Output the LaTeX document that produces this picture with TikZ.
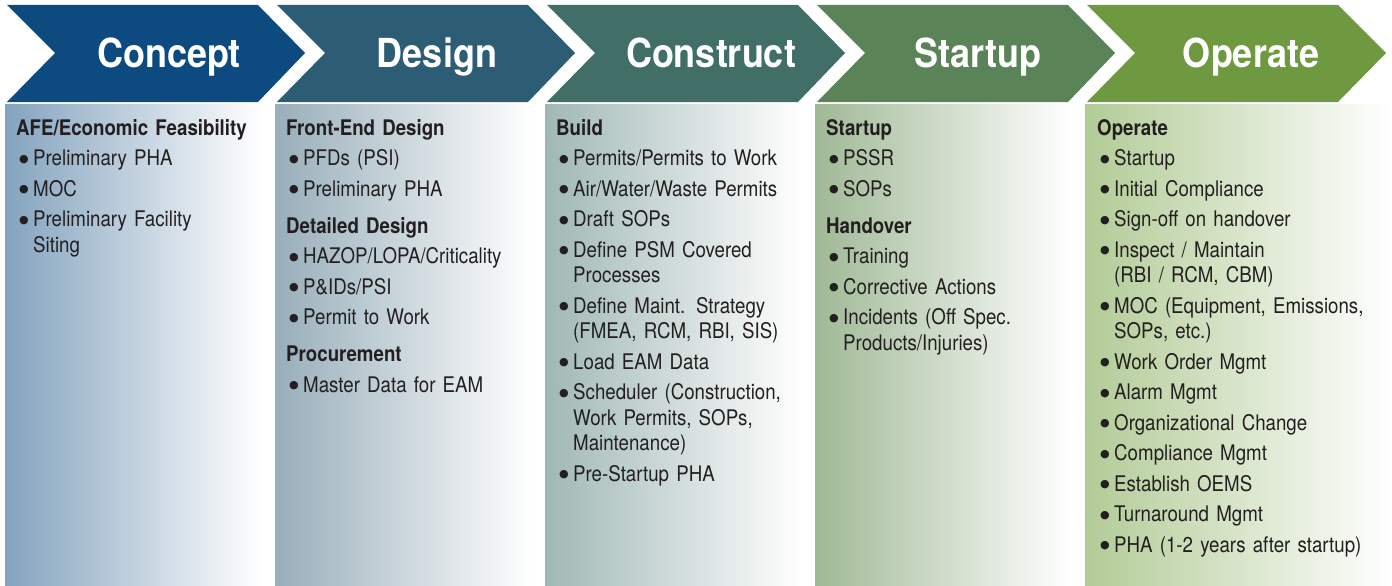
\documentclass[tikz,border=0pt]{standalone}
\usepackage{fontspec}
\setmainfont{TeX Gyre Heros}[FakeStretch=0.87]
\newfontfamily\titlefont{TeX Gyre Heros}[FakeStretch=0.9]
\newfontfamily\symfont{DejaVu Sans}
\usetikzlibrary{positioning}
\definecolor{conceptcol}{HTML}{0C4A7F}
\definecolor{designcol}{HTML}{2C5D75}
\definecolor{constructcol}{HTML}{426E68}
\definecolor{startupcol}{HTML}{5A8357}
\definecolor{operatecol}{HTML}{6F9940}
\definecolor{conceptpanel}{HTML}{84A3BE}
\definecolor{designpanel}{HTML}{98AEBA}
\definecolor{constructpanel}{HTML}{A0B8B4}
\definecolor{startuppanel}{HTML}{A0B996}
\definecolor{operatepanel}{HTML}{B2CB96}
\definecolor{textgray}{HTML}{231F20}
\newcommand{\blt}{\makebox[17pt][l]{\hspace{3pt}\raisebox{3.3pt}{\symfont\fontsize{11}{10}\selectfont ●}}}
\newcommand{\itm}[1]{\par\hangindent=17pt\hangafter=1\noindent\blt#1\par}
\newcommand{\hdr}[1]{\par\vspace{6.5pt}\noindent\textbf{#1}\par}
\newcommand{\firsthdr}[1]{\noindent\textbf{#1}\par}

\begin{document}
\begin{tikzpicture}[x=1pt,y=-1pt,
  phasetitle/.style={text=white,inner sep=0pt,anchor=base,font=\titlefont\fontsize{40}{40}\selectfont\bfseries},
  column/.style={anchor=north west,inner sep=0pt,text width=300pt,text=textgray,
    font=\fontsize{21.5}{25.5}\selectfont\setlength{\parskip}{5pt}\setlength{\parindent}{0pt}\raggedright}]
\useasboundingbox (0,0) rectangle (1392,586);
\fill[white] (0,0) rectangle (1392,586);
% panels
\shade[left color=conceptpanel,right color=white] (5,104) rectangle (262,586);
\shade[left color=designpanel,right color=white] (275,104) rectangle (532,586);
\shade[left color=constructpanel,right color=white] (545,104) rectangle (802,586);
\shade[left color=startuppanel,right color=white] (815,104) rectangle (1072,586);
\shade[left color=operatepanel,right color=white] (1085,104) rectangle (1392,586);
% chevrons
\fill[conceptcol] (7,5) -- (258,5) -- (305,53) -- (258,102) -- (7,102) -- (55,53) -- cycle;
\fill[designcol] (277,5) -- (528,5) -- (575,53) -- (528,102) -- (277,102) -- (325,53) -- cycle;
\fill[constructcol] (547,5) -- (798,5) -- (845,53) -- (798,102) -- (547,102) -- (595,53) -- cycle;
\fill[startupcol] (817,5) -- (1068,5) -- (1115,53) -- (1068,102) -- (817,102) -- (865,53) -- cycle;
\fill[operatecol] (1087,5) -- (1338,5) -- (1386,53) -- (1338,102) -- (1087,102) -- (1135,53) -- cycle;
\node[phasetitle] (concept) at (169,67) {Concept};
\node[phasetitle] (design) at (437,67) {Design};
\node[phasetitle] (construct) at (711,67) {Construct};
\node[phasetitle] (startup) at (978,67) {Startup};
\node[phasetitle] (operate) at (1251,67) {Operate};
% lists
\node[column] (conceptlist) at (16,119) {\firsthdr{AFE/Economic Feasibility}
\itm{Preliminary PHA}
\itm{MOC}
\itm{Preliminary Facility\newline Siting}};
\node[column] (designlist) at (286,119) {\firsthdr{Front-End Design}
\itm{PFDs (PSI)}
\itm{Preliminary PHA}
\hdr{Detailed Design}
\itm{HAZOP/LOPA/Criticality}
\itm{P\&IDs/PSI}
\itm{Permit to Work}
\hdr{Procurement}
\itm{Master Data for EAM}};
\node[column] (constructlist) at (556,119) {\firsthdr{Build}
\itm{Permits/Permits to Work}
\itm{Air/Water/Waste Permits}
\itm{Draft SOPs}
\itm{Define PSM Covered\newline Processes}
\itm{Define Maint. Strategy\newline (FMEA, RCM, RBI, SIS)}
\itm{Load EAM Data}
\itm{Scheduler (Construction,\newline Work Permits, SOPs,\newline Maintenance)}
\itm{Pre-Startup PHA}};
\node[column] (startuplist) at (826,119) {\firsthdr{Startup}
\itm{PSSR}
\itm{SOPs}
\hdr{Handover}
\itm{Training}
\itm{Corrective Actions}
\itm{Incidents (Off Spec.\newline Products/Injuries)}};
\node[column] (operatelist) at (1097,119) {\firsthdr{Operate}
\itm{Startup}
\itm{Initial Compliance}
\itm{Sign-off on handover}
\itm{Inspect / Maintain\newline (RBI / RCM, CBM)}
\itm{MOC (Equipment, Emissions,\newline SOPs, etc.)}
\itm{Work Order Mgmt}
\itm{Alarm Mgmt}
\itm{Organizational Change}
\itm{Compliance Mgmt}
\itm{Establish OEMS}
\itm{Turnaround Mgmt}
\itm{PHA (1-2 years after startup)}};
\end{tikzpicture}
\end{document}
